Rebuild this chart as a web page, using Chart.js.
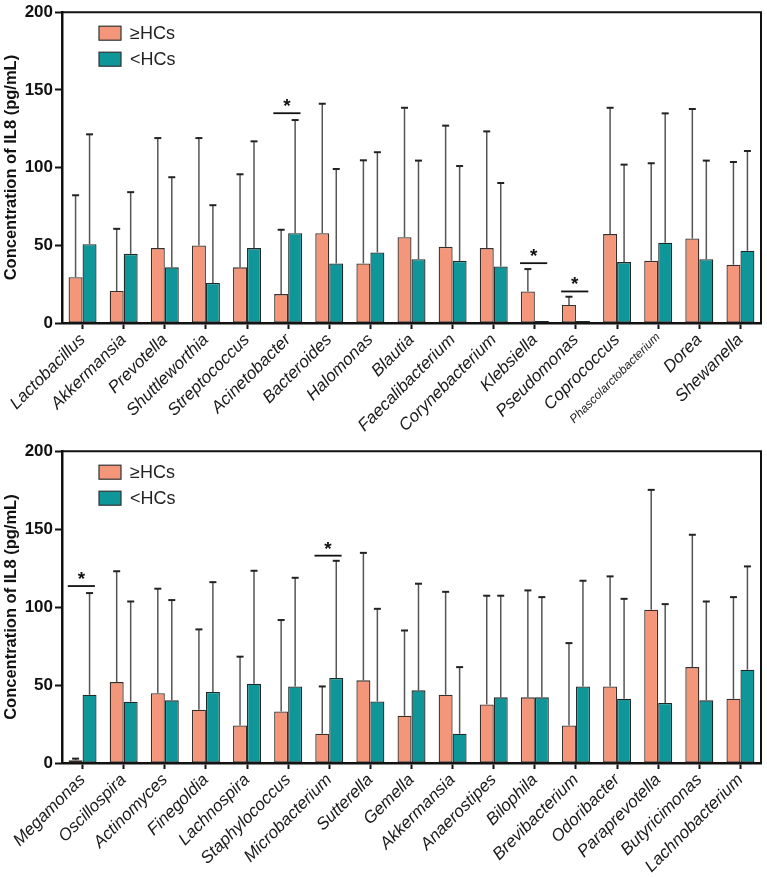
<!DOCTYPE html>
<html>
<head>
<meta charset="utf-8">
<script src="https://cdn.jsdelivr.net/npm/chart.js@4"></script>
<style>
  html, body { margin: 0; padding: 0; background: #fff; }
  canvas { display: block; }
</style>
</head>
<body>
<canvas id="topChart" width="767" height="439"></canvas>
<canvas id="bottomChart" width="767" height="438"></canvas>
<script>
// ---- data: top panel ----
var topLabels = ['Lactobacillus', 'Akkermansia', 'Prevotella', 'Shuttleworthia', 'Streptococcus',
    'Acinetobacter', 'Bacteroides', 'Halomonas', 'Blautia', 'Faecalibacterium', 'Corynebacterium',
    'Klebsiella', 'Pseudomonas', 'Coprococcus', 'Phascolarctobacterium', 'Dorea', 'Shewanella'];
var topHigh   = [29.5, 20.6, 48.2, 49.9, 35.8, 18.6, 57.8, 38.3, 55.2, 49.0, 48.2, 20.3, 11.6, 57.2, 40.0, 54.4, 37.5];
var topHighSD = [52.7, 40.0, 70.8, 69.1, 59.9, 41.4, 83.3, 66.4, 83.3, 78.0, 75.1, 14.4, 5.3, 81.3, 62.8, 83.3, 66.1];
var topLow    = [50.7, 44.5, 35.8, 25.7, 48.2, 57.8, 38.3, 45.4, 41.1, 40.0, 36.4, 1.3, 1.3, 39.2, 51.6, 41.1, 46.5];
var topLowSD  = [70.7, 39.7, 58.0, 50.1, 68.7, 72.8, 60.8, 64.5, 63.4, 61.0, 53.7, 0, 0, 62.7, 83.3, 63.4, 64.2];
var topSigLabels = ['Acinetobacter', 'Klebsiella', 'Pseudomonas'];
var topSigLevels = [135, 38.5, 20.3];

// ---- data: bottom panel ----
var bottomLabels = ['Megamonas', 'Oscillospira', 'Actinomyces', 'Finegoldia', 'Lachnospira',
    'Staphylococcus', 'Microbacterium', 'Sutterella', 'Gemella', 'Akkermansia', 'Anaerostipes',
    'Bilophila', 'Brevibacterium', 'Odoribacter', 'Paraprevotella', 'Butyricimonas', 'Lachnobacterium'];
var bottomHigh   = [1.7, 51.9, 44.7, 34.2, 24.1, 33.1, 18.8, 53.0, 30.3, 43.8, 37.6, 42.1, 24.1, 49.1, 98.3, 61.5, 41.2];
var bottomHighSD = [1.1, 71.1, 67.1, 51.5, 44.1, 58.6, 30.3, 81.8, 54.7, 66.0, 69.7, 68.6, 52.8, 70.6, 76.9, 84.9, 65.2];
var bottomLow    = [43.8, 39.3, 40.2, 45.5, 50.9, 49.1, 54.5, 39.5, 46.6, 18.8, 42.1, 42.1, 49.1, 41.2, 38.5, 40.2, 59.8];
var bottomLowSD  = [65.2, 64.3, 64.3, 70.5, 72.4, 69.7, 75.2, 59.4, 68.4, 42.7, 65.2, 64.3, 67.8, 64.1, 63.4, 63.4, 66.3];
var bottomSigLabels = ['Megamonas', 'Microbacterium'];
var bottomSigLevels = [113.5, 133];

var seriesNames = ['\u2265HCs', '<HCs'];
var yTicks = [0, 50, 100, 150, 200];

var ORANGE = '#F4967A';
var TEAL = '#0E9699';
var FONT = "'Liberation Sans', Arial, Helvetica, sans-serif";

// error bars (upper only), drawn through the y scale
var errorBars = {
    id: 'errorBars',
    afterDatasetsDraw: function(chart) {
        var ctx = chart.ctx;
        var y = chart.scales.y;
        ctx.save();
        chart.data.datasets.forEach(function(ds, di) {
            var meta = chart.getDatasetMeta(di);
            meta.data.forEach(function(bar, i) {
                var sd = ds.sd[i];
                if (!sd) return;
                var yTop = y.getPixelForValue(ds.data[i] + sd);
                ctx.strokeStyle = '#555';
                ctx.lineWidth = 1.5;
                ctx.beginPath();
                ctx.moveTo(bar.x, bar.y);
                ctx.lineTo(bar.x, yTop);
                ctx.stroke();
                ctx.strokeStyle = '#222';
                ctx.lineWidth = 2;
                ctx.beginPath();
                ctx.moveTo(bar.x - 3.5, yTop);
                ctx.lineTo(bar.x + 3.5, yTop);
                ctx.stroke();
            });
        });
        ctx.restore();
    }
};

// significance bars with asterisk
var sigMarks = {
    id: 'sigMarks',
    afterDatasetsDraw: function(chart, args, opts) {
        var ctx = chart.ctx;
        var x = chart.scales.x, y = chart.scales.y;
        var half = x.width / chart.data.labels.length;
        ctx.save();
        opts.labels.forEach(function(lab, k) {
            var cx = x.getPixelForValue(chart.data.labels.indexOf(lab));
            var py = y.getPixelForValue(opts.levels[k]);
            ctx.strokeStyle = '#111';
            ctx.lineWidth = 1.8;
            ctx.beginPath();
            ctx.moveTo(cx - half * 0.36, py);
            ctx.lineTo(cx + half * 0.3, py);
            ctx.stroke();
            ctx.fillStyle = '#111';
            ctx.font = 'bold 19px ' + FONT;
            ctx.textAlign = 'center';
            ctx.textBaseline = 'alphabetic';
            ctx.fillText('*', cx - half * 0.03, py - 1);
        });
        ctx.restore();
    }
};

// frame around the plot area + legend inside
var frameLegend = {
    id: 'frameLegend',
    afterDraw: function(chart) {
        var ctx = chart.ctx;
        var a = chart.chartArea;
        ctx.save();
        ctx.strokeStyle = '#111';
        ctx.lineWidth = 2;
        ctx.beginPath();
        ctx.moveTo(a.left, a.top);
        ctx.lineTo(a.right, a.top);
        ctx.lineTo(a.right, a.bottom);
        ctx.stroke();

        chart.data.datasets.forEach(function(ds, i) {
            var bx = a.left + 37, by = a.top + 14 + i * 26;
            ctx.fillStyle = ds.backgroundColor;
            ctx.fillRect(bx, by, 22, 14);
            ctx.strokeStyle = '#333';
            ctx.lineWidth = 1.2;
            ctx.strokeRect(bx, by, 22, 14);
            ctx.fillStyle = '#222';
            ctx.font = '18px ' + FONT;
            ctx.textAlign = 'left';
            ctx.textBaseline = 'middle';
            ctx.fillText(ds.label, bx + 31, by + 8);
        });
        ctx.restore();
    }
};

function makePanel(id, labels, high, highSD, low, lowSD, sigLabels, sigLevels, xHeight) {
    var ctx = document.getElementById(id).getContext('2d');
    return new Chart(ctx, {
        type: 'bar',
        data: {
            labels: labels,
            datasets: [{
                label: seriesNames[0],
                data: high,
                sd: highSD,
                backgroundColor: ORANGE,
                borderColor: '#3a2e2a',
                borderWidth: 1.3,
                borderSkipped: false
            }, {
                label: seriesNames[1],
                data: low,
                sd: lowSD,
                backgroundColor: TEAL,
                borderColor: '#1f2b2b',
                borderWidth: 1.3,
                borderSkipped: false
            }]
        },
        options: {
            responsive: false,
            animation: false,
            devicePixelRatio: 1,
            categoryPercentage: 0.68,
            barPercentage: 1.0,
            layout: { padding: { top: 12, right: 6, left: 0, bottom: 0 } },
            plugins: {
                legend: { display: false },
                tooltip: { enabled: false },
                sigMarks: { labels: sigLabels, levels: sigLevels }
            },
            scales: {
                x: {
                    offset: true,
                    grid: { display: true, drawOnChartArea: false, offset: false,
                            tickLength: 6, tickWidth: 2, tickColor: '#111' },
                    border: { display: true, width: 2.5, color: '#111' },
                    ticks: {
                        autoSkip: false,
                        minRotation: 45,
                        maxRotation: 45,
                        padding: 1,
                        color: '#1a1a1a',
                        font: function(c) {
                            var lab = labels[c.index];
                            return { family: FONT, style: 'italic',
                                     size: lab === 'Phascolarctobacterium' ? 12 : 17 };
                        }
                    },
                    afterFit: function(s) { s.height = xHeight; }
                },
                y: {
                    min: 0,
                    max: 200,
                    afterBuildTicks: function(s) {
                        s.ticks = yTicks.map(function(v) { return { value: v }; });
                    },
                    grid: { display: true, drawOnChartArea: false,
                            tickLength: 7, tickWidth: 2, tickColor: '#111' },
                    border: { display: true, width: 2.5, color: '#111' },
                    ticks: {
                        padding: 2,
                        color: '#111',
                        font: { family: "'Liberation Sans Narrow', " + FONT, weight: 'bold', size: 17 }
                    },
                    title: {
                        display: true,
                        text: 'Concentration of IL8 (pg/mL)',
                        color: '#111',
                        padding: { top: 2, bottom: 0 },
                        font: { family: FONT, weight: 'bold', size: 16.5 }
                    },
                    afterFit: function(s) { s.width = 62; }
                }
            }
        },
        plugins: [errorBars, sigMarks, frameLegend]
    });
}

makePanel('topChart', topLabels, topHigh, topHighSD, topLow, topLowSD, topSigLabels, topSigLevels, 116);
makePanel('bottomChart', bottomLabels, bottomHigh, bottomHighSD, bottomLow, bottomLowSD, bottomSigLabels, bottomSigLevels, 114);
</script>
</body>
</html>
